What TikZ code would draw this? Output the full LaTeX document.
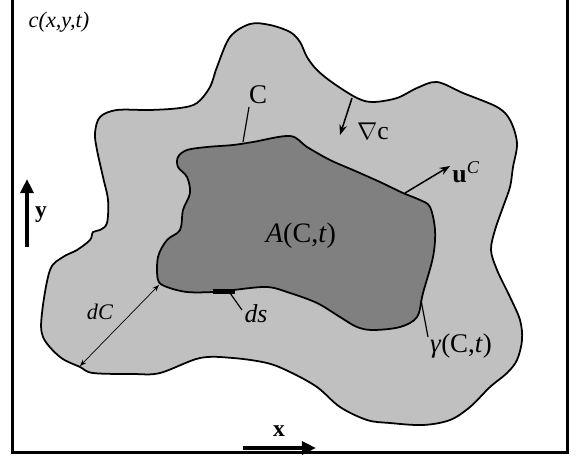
\documentclass[tikz,border=0pt]{standalone}
\usepackage{fontspec}
\setmainfont{Liberation Serif}
\usetikzlibrary{arrows.meta}
\definecolor{outergray}{RGB}{192,192,192}
\definecolor{innergray}{RGB}{128,128,128}
\tikzset{
  lbl/.style={inner sep=0pt},
  rim/.style={line width=1.5pt, line join=round},
  leader/.style={line width=1pt},
  axisarrow/.style={line width=3.2pt, -{Triangle[length=12pt,width=11pt]}},
}
\begin{document}
\begin{tikzpicture}[x=0.3mm,y=-0.3mm,>=Stealth]
		  \useasboundingbox (0,0) rectangle (580,461);
		  \draw[line width=1.8pt] (12.5,-5) rectangle (567.5,452.5);
		  \draw[rim,fill=outergray] plot[smooth cycle,tension=0.55] coordinates {
		    (250,24) (270,25) (290,32) (300,42) (307,57) (317,70) (333,83) (357,98)
		    (373,102) (397,98) (417,88) (437,82) (463,93) (497,107) (510,120) (517,143)
		    (513,167) (510,187) (503,207) (495,230) (491,250) (497,270) (510,297) (520,320)
		    (522,340) (517,360) (507,373) (490,387) (470,407) (450,420) (423,425) (390,423)
		    (367,420) (340,407) (317,387) (290,372) (267,363) (233,358) (200,358) (160,373)
		    (133,374) (93,373) (80,367) (60,357) (43,337) (42,313) (50,270) (63,257)
		    (77,250) (90,240) (93,232) (100,230) (107,223) (108,200) (103,177) (97,150)
		    (95,133) (100,117) (117,110) (150,110) (180,108) (197,103) (210,87) (217,67)
		    (230,37)};
		  \draw[rim,fill=innergray] plot[smooth cycle,tension=0.55] coordinates {
		    (187,150) (207,147) (233,145) (253,142) (290,136) (307,147) (330,160) (353,170)
		    (380,182) (403,193) (420,200) (430,207) (435,230) (433,257) (423,293) (417,317)
		    (400,327) (373,330) (357,327) (340,317) (317,303) (290,293) (267,287) (233,290)
		    (213,292) (187,292) (167,287) (158,280) (158,257) (167,240) (180,230) (183,210)
		    (190,193) (187,177) (178,167) (178,157)};
		  \node[lbl,font=\fontsize{19}{21}\selectfont] (field) at (59,22) {\textit{c(x,y,t)}};
		  \node[lbl,font=\fontsize{23}{25}\selectfont] (lblC) at (258,95) {C};
		  \node[lbl,font=\fontsize{22}{24}\selectfont] (grad) at (373,131) {$\nabla$c};
		  \node[lbl,font=\fontsize{22}{24}\selectfont] (vel) at (466,172) {\textbf{u}\textsuperscript{\textit{C}}};
		  \node[lbl,font=\fontsize{24}{26}\selectfont] (area) at (301,236) {\textit{A}(C,\textit{t})};
		  \node[lbl,font=\fontsize{22}{24}\selectfont] (lblds) at (256,314) {\textit{ds}};
		  \node[lbl,font=\fontsize{19}{21}\selectfont] (lbldC) at (100,312) {\textit{dC}};
		  \node[lbl,font=\fontsize{23}{25}\selectfont] (gam) at (461,346) {\textit{γ}(C,\textit{t})};
		  \node[lbl,font=\fontsize{20}{22}\selectfont\bfseries] (ylbl) at (41,215) {y};
		  \node[lbl,font=\fontsize{20}{22}\selectfont\bfseries] (xlbl) at (279,431) {x};
		  \node[fill=black,inner sep=0pt,minimum width=6.6mm,minimum height=1.5mm] (dsbar) at (224,291) {};
		  \coordinate (Cfoot) at (243,142);
		  \coordinate (Chead) at (249,107);
		  \coordinate (dsfoot) at (230,293);
		  \coordinate (dshead) at (242,310);
		  \coordinate (gamfoot) at (421,300);
		  \coordinate (gamhead) at (428,337);
		  \coordinate (gradtail) at (352,98);
		  \coordinate (gradtip) at (340,135);
		  \coordinate (veltail) at (405,193);
		  \coordinate (veltip) at (450,166);
		  \coordinate (dCin) at (159,285);
		  \coordinate (dCout) at (80,366);
		  \coordinate (ybase) at (27,247);
		  \coordinate (ytip) at (27,179);
		  \coordinate (xbase) at (243,448);
		  \coordinate (xtip) at (316,448);
		  \draw[leader] (Cfoot) -- (Chead);
		  \draw[leader] (dsfoot) -- (dshead);
		  \draw[leader] (gamfoot) -- (gamhead);
		  \draw[line width=1.3pt,->] (gradtail) -- (gradtip);
		  \draw[line width=1.3pt,->] (veltail) -- (veltip);
		  \draw[line width=0.6pt,<->] (dCout) -- (dCin);
		  \draw[axisarrow] (ybase) -- (ytip);
		  \draw[axisarrow] (xbase) -- (xtip);
		\end{tikzpicture}
\end{document}
